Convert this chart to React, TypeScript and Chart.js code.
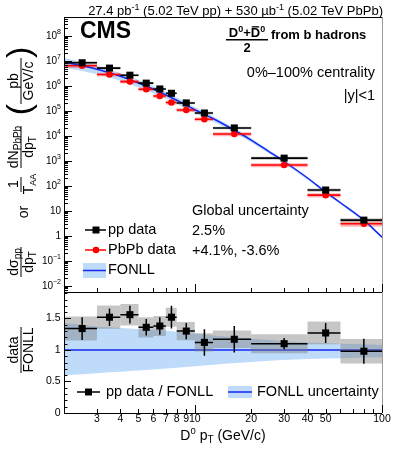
import React, { useEffect, useRef } from 'react';
import { Chart, registerables } from 'chart.js';

Chart.register(...registerables);

// ---------------- data ----------------
const binLo = [2, 3, 4, 5, 6, 7, 8, 10, 12.5, 20, 40, 60];
const binHi = [3, 4, 5, 6, 7, 8, 10, 12.5, 20, 40, 60, 100];
const binCenter = [2.5, 3.5, 4.5, 5.5, 6.5, 7.5, 9, 11.25, 16.25, 30, 50, 80];
const ppData = [8.5e6, 5.2e6, 2.7e6, 1.3e6, 7.6e5, 5.1e5, 2.1e5, 8.3e4, 2.1e4, 1.3e3, 69, 4.3];
const pbpbData = [6.5e6, 2.9e6, 1.5e6, 7.4e5, 4.0e5, 2.2e5, 1.1e5, 4.7e4, 1.2e4, 690, 43, 3.1];
const pbpbSysRel = [0.2, 0.18, 0.17, 0.17, 0.17, 0.17, 0.17, 0.18, 0.18, 0.18, 0.2, 0.25];
const ratioData = [1.34, 1.52, 1.56, 1.36, 1.38, 1.52, 1.3, 1.12, 1.17, 1.1, 1.27, 0.98];
const ratioStat = [0.18, 0.14, 0.14, 0.13, 0.14, 0.18, 0.13, 0.21, 0.21, 0.09, 0.16, 0.2];
const ratioSys = [0.19, 0.185, 0.17, 0.16, 0.16, 0.15, 0.145, 0.145, 0.14, 0.15, 0.18, 0.195];
const fonllPt = [2, 2.5, 3, 3.5, 4, 4.5, 5, 6, 7, 8, 10, 12.5, 15, 20, 25, 30, 40, 50, 60, 80, 100];
const fonllCentral = [9.12e6, 6.46e6, 4.68e6, 3.39e6, 2.45e6, 1.78e6, 1.32e6, 7.41e5, 4.37e5, 2.69e5, 1.12e5, 5.0e4, 2.4e4, 6.9e3, 2.34e3, 955, 209, 57.5, 21.4, 4.3, 0.9];
const fonllRelHi = [1.43, 1.4, 1.37, 1.36, 1.35, 1.34, 1.33, 1.32, 1.31, 1.29, 1.26, 1.23, 1.21, 1.18, 1.16, 1.14, 1.12, 1.11, 1.1, 1.09, 1.08];
const fonllRelLo = [0.6, 0.615, 0.63, 0.645, 0.655, 0.665, 0.675, 0.69, 0.705, 0.72, 0.74, 0.765, 0.785, 0.81, 0.83, 0.84, 0.855, 0.865, 0.87, 0.88, 0.885];
const xTickLabels = [3, 4, 5, 6, 7, 8, 9, 10, 20, 30, 40, 50, 100];
const yTickExponents = [-2, -1, 0, 1, 2, 3, 4, 5, 6, 7, 8];
const ratioTickLabels = [0, 0.5, 1, 1.5];

// ---------------- style ----------------
const FONT = '"Liberation Sans", Arial, Helvetica, sans-serif';
const BAND = '#bedcfa';
const BLUE = 'rgb(20,40,240)';
const GRAYBOX = 'rgba(120,120,120,0.42)';
const REDBOX = 'rgba(255,70,70,0.4)';
const UPPER_FRACTION = 275 / 396;

type Part = { t: string; size: number; dy?: number; bold?: boolean; over?: boolean };

const fontOf = (p: Part) => `${p.bold ? 'bold ' : ''}${p.size}px ${FONT}`;

function richWidth(ctx: CanvasRenderingContext2D, parts: Part[]) {
  let w = 0;
  for (const p of parts) {
    ctx.font = fontOf(p);
    w += ctx.measureText(p.t).width;
  }
  return w;
}

function drawRich(ctx: CanvasRenderingContext2D, parts: Part[], x: number, y: number, align: 'left' | 'center' | 'right') {
  const w = richWidth(ctx, parts);
  let cx = align === 'left' ? x : align === 'center' ? x - w / 2 : x - w;
  ctx.textAlign = 'left';
  for (const p of parts) {
    ctx.font = fontOf(p);
    const pw = ctx.measureText(p.t).width;
    ctx.fillText(p.t, cx, y + (p.dy || 0));
    if (p.over) {
      ctx.save();
      ctx.lineWidth = 1.3;
      ctx.beginPath();
      ctx.moveTo(cx + 1, y - p.size * 0.78);
      ctx.lineTo(cx + pw - 1, y - p.size * 0.78);
      ctx.stroke();
      ctx.restore();
    }
    cx += pw;
  }
  return w;
}

function vRich(ctx: CanvasRenderingContext2D, parts: Part[], yCenter: number, xBaseline: number) {
  ctx.save();
  ctx.translate(xBaseline, yCenter);
  ctx.rotate(-Math.PI / 2);
  ctx.textBaseline = 'alphabetic';
  drawRich(ctx, parts, 0, 0, 'center');
  ctx.restore();
}

function vBar(ctx: CanvasRenderingContext2D, x: number, y0: number, y1: number) {
  ctx.save();
  ctx.lineWidth = 1;
  ctx.beginPath();
  ctx.moveTo(x, y0);
  ctx.lineTo(x, y1);
  ctx.stroke();
  ctx.restore();
}

function vFrac(ctx: CanvasRenderingContext2D, num: Part[], den: Part[], yCenter: number, halfLen: number) {
  vRich(ctx, num, yCenter, 17.5);
  vBar(ctx, 21, yCenter - halfLen, yCenter + halfLen);
  vRich(ctx, den, yCenter, 33);
}

const decorPlugin = {
  id: 'decor',
  afterLayout(chart: any) {
    const area = chart.chartArea;
    const mid = area.top + (area.bottom - area.top) * UPPER_FRACTION;
    const sy = chart.scales.y;
    const sy2 = chart.scales.y2;
    sy.top = area.top;
    sy.bottom = mid;
    sy.height = mid - area.top;
    sy.configure();
    sy2.top = mid;
    sy2.bottom = area.bottom;
    sy2.height = area.bottom - mid;
    sy2.configure();
  },
  afterDraw(chart: any) {
    const ctx: CanvasRenderingContext2D = chart.ctx;
    const sx = chart.scales.x;
    const sy = chart.scales.y;
    const sy2 = chart.scales.y2;
    const L = sx.left;
    const R = sx.right;
    const T = sy.top;
    const M = sy.bottom;
    const B = sy2.bottom;
    const hp = (v: number) => Math.round(v) + 0.5;
    ctx.save();
    ctx.fillStyle = '#000';
    ctx.strokeStyle = '#000';
    ctx.lineWidth = 1;

    // frame
    ctx.beginPath();
    ctx.moveTo(hp(L), T);
    ctx.lineTo(hp(L), B);
    ctx.moveTo(L, hp(T));
    ctx.lineTo(R, hp(T));
    ctx.moveTo(L, hp(M));
    ctx.lineTo(R, hp(M));
    ctx.moveTo(L, hp(B));
    ctx.lineTo(R, hp(B));
    ctx.stroke();
    ctx.strokeStyle = '#999';
    ctx.beginPath();
    ctx.moveTo(hp(R), T);
    ctx.lineTo(hp(R), B);
    ctx.stroke();
    ctx.strokeStyle = '#000';

    // x ticks
    const xTickVals: number[] = [];
    for (let d = 0; d <= 1; d++) for (let k = 1; k <= 9; k++) xTickVals.push(k * Math.pow(10, d));
    xTickVals.push(100);
    ctx.beginPath();
    for (const v of xTickVals) {
      if (v < 2 || v > 100) continue;
      const xp = hp(sx.getPixelForValue(v));
      const len = v === 10 || v === 100 ? 8 : 4;
      ctx.moveTo(xp, M);
      ctx.lineTo(xp, M - len);
      ctx.moveTo(xp, B);
      ctx.lineTo(xp, B - len);
    }
    ctx.stroke();

    // upper y ticks
    ctx.beginPath();
    for (let d = -3; d <= 8; d++) {
      for (let k = 1; k <= 9; k++) {
        const v = k * Math.pow(10, d);
        if (v < sy.min || v > sy.max) continue;
        const yp = hp(sy.getPixelForValue(v));
        const len = k === 1 ? 8 : 4;
        ctx.moveTo(L, yp);
        ctx.lineTo(L + len, yp);
      }
    }
    // ratio y ticks
    for (let i = 0; i <= 19; i++) {
      const v = i * 0.1;
      if (v > sy2.max) continue;
      const yp = hp(sy2.getPixelForValue(v));
      const len = i % 5 === 0 ? 7 : 3.5;
      ctx.moveTo(L, yp);
      ctx.lineTo(L + len, yp);
    }
    ctx.stroke();

    // tick labels
    ctx.textBaseline = 'middle';
    for (const e of yTickExponents) {
      const yp = sy.getPixelForValue(Math.pow(10, e));
      let parts: Part[];
      if (e === 0) parts = [{ t: '1', size: 10 }];
      else if (e === 1) parts = [{ t: '10', size: 10 }];
      else parts = [{ t: '10', size: 10 }, { t: e < 0 ? '\u2212' + Math.abs(e) : String(e), size: 7, dy: -4 }];
      drawRich(ctx, parts, L - 3, yp, 'right');
    }
    for (const v of ratioTickLabels) {
      const yp = sy2.getPixelForValue(v);
      drawRich(ctx, [{ t: String(v), size: 10.5 }], L - 3.5, yp, 'right');
    }
    ctx.textBaseline = 'alphabetic';
    for (const v of xTickLabels) {
      const xp = sx.getPixelForValue(v);
      drawRich(ctx, [{ t: String(v), size: 10.5 }], xp, B + 9, 'center');
    }

    // x title
    drawRich(
      ctx,
      [
        { t: 'D', size: 14 },
        { t: '0', size: 9.5, dy: -6 },
        { t: ' p', size: 14 },
        { t: 'T', size: 10, dy: 3 },
        { t: ' (GeV/c)', size: 14 },
      ],
      (L + R) / 2,
      B + 26.5,
      'center'
    );

    // top luminosity text
    drawRich(
      ctx,
      [
        { t: '27.4 pb', size: 13 },
        { t: '-1', size: 9, dy: -5 },
        { t: ' (5.02 TeV pp) + 530 \u00b5b', size: 13 },
        { t: '-1', size: 9, dy: -5 },
        { t: ' (5.02 TeV PbPb)', size: 13 },
      ],
      R + 1,
      T - 2,
      'right'
    );

    // CMS
    drawRich(ctx, [{ t: 'CMS', size: 23, bold: true }], L + 16, T + 20.5, 'left');

    // header fraction
    drawRich(
      ctx,
      [
        { t: 'D', size: 13, bold: true },
        { t: '0', size: 9, bold: true, dy: -5 },
        { t: '+', size: 13, bold: true },
        { t: 'D', size: 13, bold: true, over: true },
        { t: '0', size: 9, bold: true, dy: -5 },
      ],
      247,
      T + 20,
      'center'
    );
    ctx.save();
    ctx.lineWidth = 1.4;
    ctx.beginPath();
    ctx.moveTo(226, T + 22.7);
    ctx.lineTo(268, T + 22.7);
    ctx.stroke();
    ctx.restore();
    drawRich(ctx, [{ t: '2', size: 13, bold: true }], 247, T + 35, 'center');
    drawRich(ctx, [{ t: 'from b hadrons', size: 13, bold: true }], 271, T + 21.5, 'left');

    drawRich(ctx, [{ t: '0%\u2013100% centrality', size: 14.5 }], 375, 77, 'right');
    drawRich(ctx, [{ t: '|y|<1', size: 14.5 }], 375, 100, 'right');

    drawRich(ctx, [{ t: 'Global uncertainty', size: 14.5 }], 192, 215, 'left');
    drawRich(ctx, [{ t: '2.5%', size: 14.5 }], 192, 235, 'left');
    drawRich(ctx, [{ t: '+4.1%, -3.6%', size: 14.5 }], 192, 255, 'left');

    // upper legend
    ctx.save();
    ctx.lineWidth = 1.5;
    ctx.strokeStyle = '#000';
    ctx.beginPath();
    ctx.moveTo(85, 230);
    ctx.lineTo(106, 230);
    ctx.stroke();
    ctx.fillStyle = '#000';
    ctx.fillRect(92.5, 226.5, 7, 7);
    ctx.strokeStyle = '#ff0000';
    ctx.beginPath();
    ctx.moveTo(85, 250);
    ctx.lineTo(106, 250);
    ctx.stroke();
    ctx.fillStyle = '#ff0000';
    ctx.beginPath();
    ctx.arc(96, 250, 3.3, 0, Math.PI * 2);
    ctx.fill();
    ctx.fillStyle = BAND;
    ctx.fillRect(83, 263, 23, 15);
    ctx.strokeStyle = BLUE;
    ctx.beginPath();
    ctx.moveTo(83, 270.5);
    ctx.lineTo(106, 270.5);
    ctx.stroke();
    // lower legend
    ctx.strokeStyle = '#000';
    ctx.beginPath();
    ctx.moveTo(77, 392);
    ctx.lineTo(100, 392);
    ctx.stroke();
    ctx.fillStyle = '#000';
    ctx.fillRect(85, 388.5, 7, 7);
    ctx.fillStyle = BAND;
    ctx.fillRect(228, 386, 24, 12);
    ctx.strokeStyle = BLUE;
    ctx.beginPath();
    ctx.moveTo(228, 392);
    ctx.lineTo(252, 392);
    ctx.stroke();
    ctx.restore();

    ctx.fillStyle = '#000';
    ctx.textBaseline = 'middle';
    drawRich(ctx, [{ t: 'pp data', size: 14.5 }], 108, 230, 'left');
    drawRich(ctx, [{ t: 'PbPb data', size: 14.5 }], 108, 250, 'left');
    drawRich(ctx, [{ t: 'FONLL', size: 14.5 }], 108, 270, 'left');
    drawRich(ctx, [{ t: 'pp data / FONLL', size: 14.5 }], 106, 392, 'left');
    drawRich(ctx, [{ t: 'FONLL uncertainty', size: 14.5 }], 257, 392, 'left');
    ctx.textBaseline = 'alphabetic';

    // y titles (rotated)
    vFrac(ctx, [{ t: 'd\u03c3', size: 14 }, { t: 'pp', size: 10, dy: 3 }], [{ t: 'dp', size: 14 }, { t: 'T', size: 10, dy: 3 }], 262, 15);
    vRich(ctx, [{ t: 'or', size: 14 }], 212, 27.5);
    vRich(ctx, [{ t: '1', size: 14 }], 184, 17.5);
    vBar(ctx, 21, 177, 192);
    vRich(ctx, [{ t: 'T', size: 14 }, { t: 'AA', size: 9, dy: 3 }], 184, 33);
    vFrac(ctx, [{ t: 'dN', size: 14 }, { t: 'PbPb', size: 10, dy: 3 }], [{ t: 'dp', size: 14 }, { t: 'T', size: 10, dy: 3 }], 147, 21);
    vFrac(ctx, [{ t: 'pb', size: 14 }], [{ t: 'GeV/c', size: 14 }], 81, 23);
    ctx.save();
    ctx.translate(29.5, 81);
    ctx.rotate(-Math.PI / 2);
    ctx.font = `34px ${FONT}`;
    ctx.textAlign = 'right';
    ctx.fillText('(', -23, 0);
    ctx.textAlign = 'left';
    ctx.fillText(')', 23, 0);
    ctx.restore();
    vFrac(ctx, [{ t: 'data', size: 14 }], [{ t: 'FONLL', size: 14 }], 350, 23);

    ctx.restore();
  },
};

const xy = (x: number, y: number | null) => ({ x, y });

function rectDs(x0: number, x1: number, y0: number, y1: number, yAxisID: string, color: string, order: number) {
  return {
    data: [xy(x0, y0), xy(x1, y0), xy(x1, y1), xy(x0, y1), xy(x0, y0)],
    xAxisID: 'x',
    yAxisID,
    borderWidth: 0,
    borderColor: 'rgba(0,0,0,0)',
    backgroundColor: color,
    pointRadius: 0,
    fill: 'shape',
    order,
  };
}

function segDs(segs: number[][], yAxisID: string, color: string, width: number, order: number) {
  return {
    data: segs.flatMap(([x0, y0, x1, y1]) => [xy(x0, y0), xy(x1, y1), xy(x1, null)]),
    xAxisID: 'x',
    yAxisID,
    borderColor: color,
    borderWidth: width,
    pointRadius: 0,
    fill: false,
    spanGaps: false,
    order,
  };
}

function buildDatasets() {
  const ds: any[] = [];
  // upper panel FONLL band
  ds.push({
    data: fonllPt.map((p, i) => xy(p, fonllCentral[i] * fonllRelHi[i])),
    xAxisID: 'x', yAxisID: 'y', borderWidth: 0, pointRadius: 0, fill: false, order: 30,
  });
  ds.push({
    data: fonllPt.map((p, i) => xy(p, fonllCentral[i] * fonllRelLo[i])),
    xAxisID: 'x', yAxisID: 'y', borderWidth: 0, pointRadius: 0, fill: '-1', backgroundColor: BAND, order: 30,
  });
  // ratio panel FONLL band
  ds.push({
    data: fonllPt.map((p, i) => xy(p, fonllRelHi[i])),
    xAxisID: 'x', yAxisID: 'y2', borderWidth: 0, pointRadius: 0, fill: false, order: 30,
  });
  ds.push({
    data: fonllPt.map((p, i) => xy(p, fonllRelLo[i])),
    xAxisID: 'x', yAxisID: 'y2', borderWidth: 0, pointRadius: 0, fill: '-1', backgroundColor: BAND, order: 30,
  });
  // FONLL central
  ds.push({
    data: fonllPt.map((p, i) => xy(p, fonllCentral[i])),
    xAxisID: 'x', yAxisID: 'y', borderColor: BLUE, borderWidth: 1.5, pointRadius: 0, fill: false,
    cubicInterpolationMode: 'monotone', order: 15,
  });
  ds.push({
    data: [xy(fonllPt[0], 1), xy(fonllPt[fonllPt.length - 1], 1)],
    xAxisID: 'x', yAxisID: 'y2', borderColor: BLUE, borderWidth: 1.5, pointRadius: 0, fill: false, order: 25,
  });
  // systematic boxes
  binCenter.forEach((_, i) => {
    const rel = ratioSys[i] / ratioData[i];
    ds.push(rectDs(binLo[i], binHi[i], ppData[i] * (1 - rel), ppData[i] * (1 + rel), 'y', GRAYBOX, 20));
    ds.push(rectDs(binLo[i], binHi[i], pbpbData[i] * (1 - pbpbSysRel[i]), pbpbData[i] * (1 + pbpbSysRel[i]), 'y', REDBOX, 20));
    ds.push(rectDs(binLo[i], binHi[i], ratioData[i] - ratioSys[i], ratioData[i] + ratioSys[i], 'y2', GRAYBOX, 20));
  });
  // error bars
  ds.push(segDs(binLo.map((lo, i) => [lo, pbpbData[i], binHi[i], pbpbData[i]]), 'y', '#ff0000', 1.6, 6));
  ds.push(segDs(binLo.map((lo, i) => [lo, ppData[i], binHi[i], ppData[i]]), 'y', '#000', 1.6, 5));
  ds.push(segDs(binLo.map((lo, i) => [lo, ratioData[i], binHi[i], ratioData[i]]), 'y2', '#000', 1.5, 5));
  ds.push(segDs(binCenter.map((c, i) => [c, ratioData[i] - ratioStat[i], c, ratioData[i] + ratioStat[i]]), 'y2', '#000', 1.5, 5));
  // markers
  ds.push({
    data: binCenter.map((c, i) => xy(c, pbpbData[i])),
    xAxisID: 'x', yAxisID: 'y', showLine: false, pointStyle: 'circle', pointRadius: 3.3,
    pointBackgroundColor: '#ff0000', pointBorderColor: '#ff0000', pointBorderWidth: 0, order: 2,
  });
  ds.push({
    data: binCenter.map((c, i) => xy(c, ppData[i])),
    xAxisID: 'x', yAxisID: 'y', showLine: false, pointStyle: 'rect', pointRadius: 5,
    pointBackgroundColor: '#000', pointBorderColor: '#000', pointBorderWidth: 0, order: 1,
  });
  ds.push({
    data: binCenter.map((c, i) => xy(c, ratioData[i])),
    xAxisID: 'x', yAxisID: 'y2', showLine: false, pointStyle: 'rect', pointRadius: 5,
    pointBackgroundColor: '#000', pointBorderColor: '#000', pointBorderWidth: 0, order: 1,
  });
  return ds;
}

export default function App() {
  const ref = useRef<HTMLCanvasElement>(null);
  useEffect(() => {
    const canvas = ref.current;
    if (!canvas) return;
    const chart = new Chart(canvas, {
      type: 'line',
      data: { datasets: buildDatasets() },
      options: {
        responsive: false,
        animation: false,
        events: [],
        layout: { padding: { left: 64, right: 17, top: 17, bottom: 37 } },
        plugins: { legend: { display: false }, tooltip: { enabled: false } },
        scales: {
          x: { type: 'logarithmic', min: 2, max: 100, display: false, bounds: 'data' },
          y: { type: 'logarithmic', min: Math.pow(10, -2.24), max: Math.pow(10, 8.76), display: false, bounds: 'data', position: 'left' },
          y2: { type: 'linear', min: 0, max: 1.92, display: false, bounds: 'data', position: 'left' },
        },
      } as any,
      plugins: [decorPlugin as any],
    });
    return () => chart.destroy();
  }, []);
  return (
    <div style={{ position: 'absolute', left: 0, top: 0, width: 399, height: 450, background: '#fff' }}>
      <canvas ref={ref} width={399} height={450} style={{ display: 'block', width: 399, height: 450 }} />
    </div>
  );
}
